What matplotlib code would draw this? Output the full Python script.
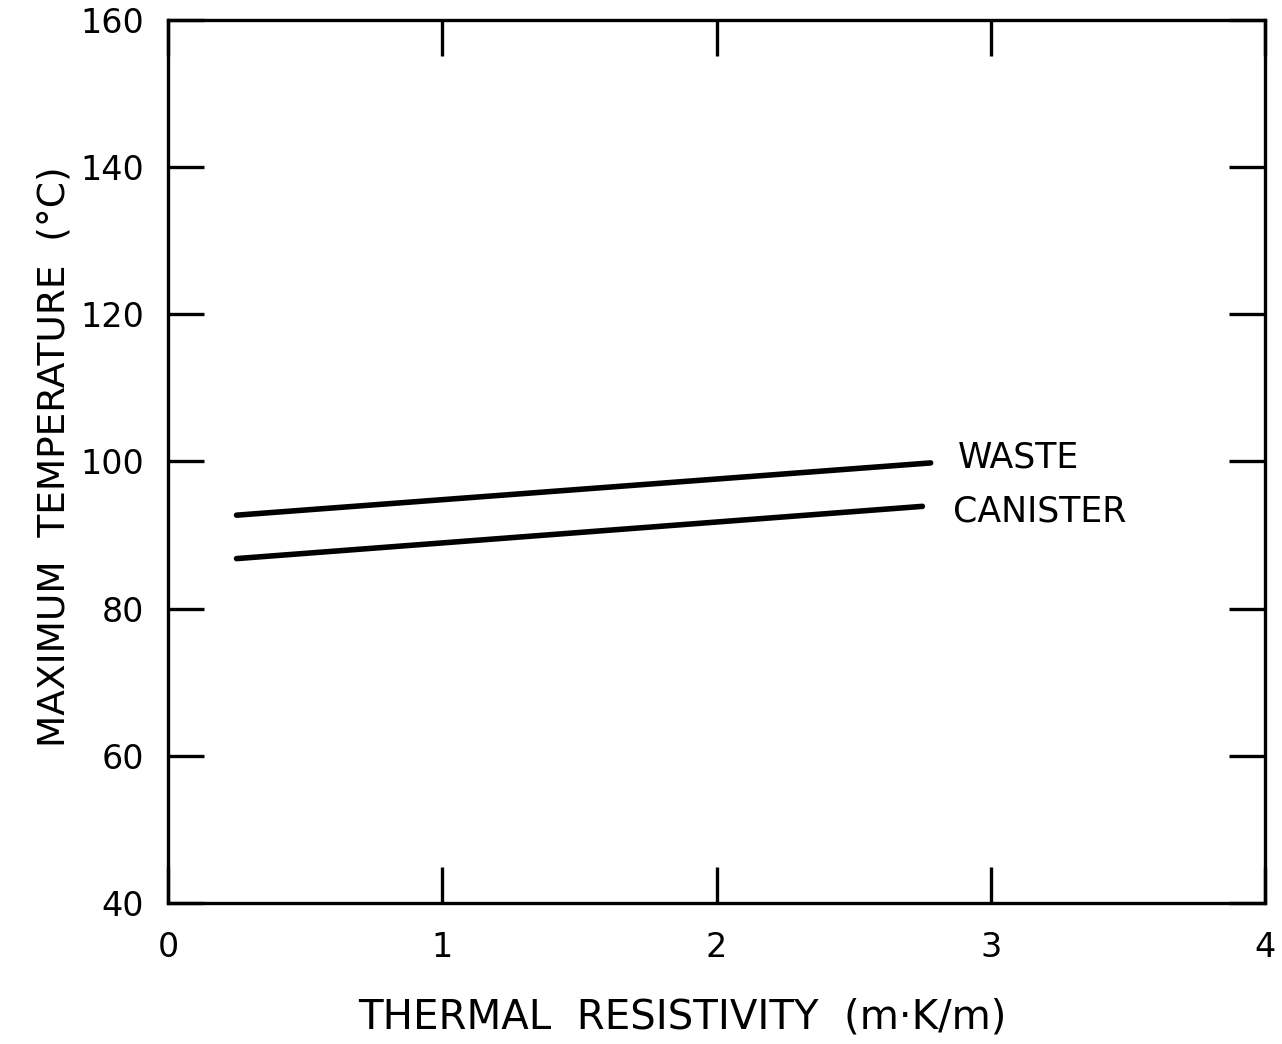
import matplotlib
matplotlib.use("Agg")
import matplotlib.pyplot as plt

plt.rcParams['font.family'] = ['DejaVu Sans']

# Thermal resistivity (m·K/m) and maximum temperatures (°C)
resistivity = [0.25, 2.78]
waste_temp = [92.7, 99.8]
canister_resistivity = [0.25, 2.75]
canister_temp = [86.8, 93.9]

x_ticks = [0, 1, 2, 3, 4]
y_ticks = [40, 60, 80, 100, 120, 140, 160]

fig = plt.figure(figsize=(12.82, 10.44), dpi=100)
ax = fig.add_axes([0.131, 0.135, 0.856, 0.846])

ax.plot(resistivity, waste_temp, color='black', lw=4.0, solid_capstyle='round')
ax.plot(canister_resistivity, canister_temp, color='black', lw=4.0, solid_capstyle='round')

ax.text(2.88, 100.6, 'WASTE', fontsize=25, va='center', ha='left')
ax.text(2.86, 93.2, 'CANISTER', fontsize=25, va='center', ha='left')

ax.set_xlim(0, 4)
ax.set_ylim(40, 160)
ax.set_xticks(x_ticks)
ax.set_yticks(y_ticks)
ax.tick_params(direction='in', length=26, width=2.4, labelsize=24,
               top=True, right=True, pad=20)
ax.tick_params(axis='y', pad=17)
for s in ax.spines.values():
    s.set_linewidth(2.4)

ax.set_xlabel('THERMAL  RESISTIVITY  (m·K/m)', fontsize=29)
ax.set_ylabel('MAXIMUM  TEMPERATURE  (°C)', fontsize=27)
ax.xaxis.label.set_va('center')
ax.yaxis.label.set_va('center')
ax.xaxis.set_label_coords(0.469, -0.130)
ax.yaxis.set_label_coords(-0.103, 0.505)

fig.savefig('out.png', dpi=100, facecolor='white')
